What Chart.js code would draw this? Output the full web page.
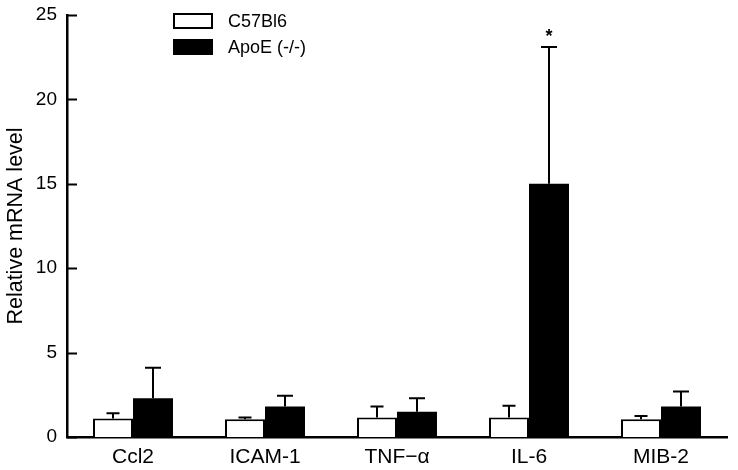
<!DOCTYPE html>
<html>
<head>
<meta charset="utf-8">
<script src="https://cdn.jsdelivr.net/npm/chart.js@4.4.1/dist/chart.umd.min.js"></script>
<style>
  html, body { margin: 0; padding: 0; background: #fff; }
  #wrap { width: 738px; height: 470px; }
</style>
</head>
<body>
<div id="wrap"><canvas id="myChart" width="738" height="470"></canvas></div>
<script>
// data
const genes = ['Ccl2', 'ICAM-1', 'TNF\u2212\u03b1', 'IL-6', 'MIB-2'];
const wildType = [1.1, 1.05, 1.15, 1.15, 1.05];      // C57Bl6
const wildTypeErr = [0.3, 0.1, 0.65, 0.7, 0.2];
const apoE = [2.3, 1.8, 1.5, 15.0, 1.8];             // ApoE (-/-)
const apoEErr = [1.8, 0.65, 0.8, 8.1, 0.9];
const yTicks = [0, 5, 10, 15, 20, 25];
const starredGene = 'IL-6';

const FONT = 'Arial, "Liberation Sans", sans-serif';
const ctx = document.getElementById('myChart');

// upward-only error bars with caps, plus the significance star
const errorBars = {
  id: 'errorBars',
  afterDatasetsDraw(chart) {
    const c = chart.ctx;
    const y = chart.scales.y;
    c.save();
    c.strokeStyle = '#000';
    c.lineWidth = 2;
    chart.data.datasets.forEach((ds, di) => {
      const meta = chart.getDatasetMeta(di);
      meta.data.forEach((bar, i) => {
        const top = y.getPixelForValue(ds.data[i]);
        const end = y.getPixelForValue(ds.data[i] + ds.errors[i]);
        const half = ds.capWidth / 2;
        c.beginPath();
        c.moveTo(bar.x, top);
        c.lineTo(bar.x, end);
        c.moveTo(bar.x - half, end);
        c.lineTo(bar.x + half, end);
        c.stroke();
        if (di === 1 && genes[i] === starredGene) {
          c.fillStyle = '#000';
          c.font = 'bold 18px ' + FONT;
          c.textAlign = 'center';
          c.textBaseline = 'bottom';
          c.fillText('*', bar.x, end - 1);
        }
      });
    });
    c.restore();
  }
};

// y ticks point inward, into the plot
const innerTicks = {
  id: 'innerTicks',
  afterDraw(chart) {
    const c = chart.ctx;
    const y = chart.scales.y;
    c.save();
    c.strokeStyle = '#000';
    c.lineWidth = 2;
    y.ticks.forEach(t => {
      const py = Math.round(y.getPixelForValue(t.value)) + 0.5;
      c.beginPath();
      c.moveTo(chart.chartArea.left, py);
      c.lineTo(chart.chartArea.left + 10, py);
      c.stroke();
    });
    c.restore();
  }
};

// stacked legend in the upper left of the plot
const boxLegend = {
  id: 'boxLegend',
  afterDraw(chart) {
    const c = chart.ctx;
    c.save();
    c.font = '18px ' + FONT;
    c.textBaseline = 'middle';
    c.textAlign = 'left';
    chart.data.datasets.forEach((ds, i) => {
      const bx = 174, by = 14 + i * 26, bw = 38, bh = 14;
      c.fillStyle = ds.backgroundColor;
      c.fillRect(bx, by, bw, bh);
      c.strokeStyle = '#000';
      c.lineWidth = 2;
      c.strokeRect(bx, by, bw, bh);
      c.fillStyle = '#000';
      c.fillText(ds.label, 228, by + bh / 2 + 1);
    });
    c.restore();
  }
};

new Chart(ctx, {
  type: 'bar',
  data: {
    labels: genes,
    datasets: [{
      label: 'C57Bl6',
      data: wildType,
      errors: wildTypeErr,
      capWidth: 13,
      backgroundColor: '#ffffff',
      borderColor: '#000000',
      borderWidth: 2
    }, {
      label: 'ApoE (-/-)',
      data: apoE,
      errors: apoEErr,
      capWidth: 16,
      backgroundColor: '#000000',
      borderColor: '#000000',
      borderWidth: 0
    }]
  },
  options: {
    responsive: false,
    animation: false,
    layout: { padding: { top: 15, right: 11, left: 0, bottom: 0 } },
    datasets: {
      bar: { barPercentage: 1, categoryPercentage: 0.606, borderSkipped: 'start' }
    },
    plugins: {
      legend: { display: false },
      tooltip: { enabled: false }
    },
    scales: {
      x: {
        grid: { display: false, drawTicks: false },
        border: { display: true, color: '#000', width: 2.5 },
        ticks: { color: '#000', font: { family: FONT, size: 21 }, padding: 8 },
        afterFit(scale) { scale.height = 33; scale.paddingLeft = 0; scale.paddingRight = 0; }
      },
      y: {
        min: 0,
        max: 25,
        afterBuildTicks(scale) { scale.ticks = yTicks.map(v => ({ value: v })); },
        grid: { display: false, drawTicks: false },
        border: { display: true, color: '#000', width: 2.5 },
        ticks: { color: '#000', font: { family: FONT, size: 19 }, padding: 10 },
        title: {
          display: true,
          text: 'Relative mRNA level',
          color: '#000',
          font: { family: FONT, size: 21.5 },
          padding: { top: 3, bottom: 0 }
        },
        afterFit(scale) { scale.width = 67; scale.paddingTop = 0; scale.paddingBottom = 0; }
      }
    }
  },
  plugins: [errorBars, innerTicks, boxLegend]
});
</script>
</body>
</html>
